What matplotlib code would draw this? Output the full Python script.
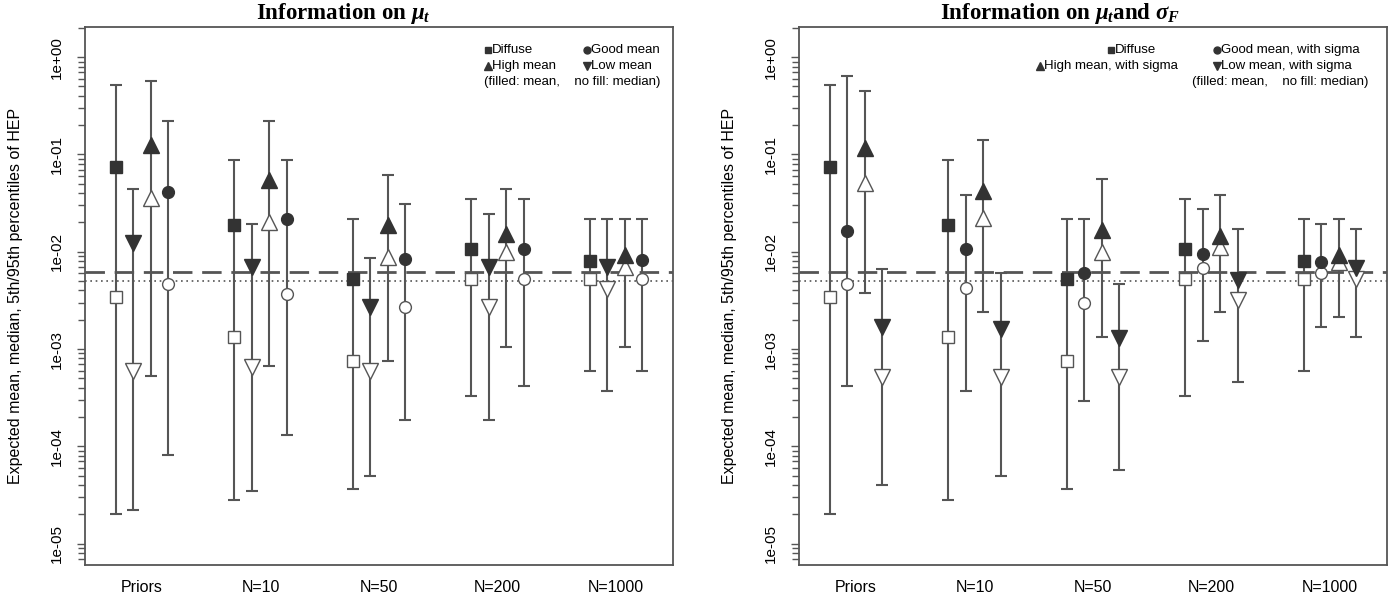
import numpy as np
import matplotlib
matplotlib.use("Agg")
import matplotlib.pyplot as plt
from matplotlib.ticker import LogLocator, NullFormatter, FixedLocator

plt.rcParams['font.family'] = ['Liberation Sans', 'DejaVu Sans']
plt.rcParams['mathtext.fontset'] = 'custom'
plt.rcParams['mathtext.rm'] = 'Liberation Serif:bold'
plt.rcParams['mathtext.it'] = 'Liberation Serif:bold:italic'
plt.rcParams['mathtext.bf'] = 'Liberation Serif:bold'

groups = ["Priors", "N=10", "N=50", "N=200", "N=1000"]

# Left panel: information on mu_t
diffuse_mean = [0.075, 0.019, 0.0052, 0.0106, 0.0081]
diffuse_median = [0.0034, 0.00134, 0.00076, 0.0053, 0.0053]
diffuse_p05 = [2.0e-5, 2.8e-5, 3.6e-5, 3.3e-4, 5.9e-4]
diffuse_p95 = [0.52, 0.088, 0.0216, 0.0345, 0.0216]

low_mean = [0.0124, 0.0069, 0.0027, 0.0070, 0.0070]
low_median = [5.9e-4, 6.5e-4, 5.9e-4, 0.0027, 0.0041]
low_p05 = [2.2e-5, 3.5e-5, 5.0e-5, 1.86e-4, 3.7e-4]
low_p95 = [0.044, 0.0193, 0.0086, 0.0244, 0.0216]

high_mean = [0.125, 0.054, 0.019, 0.0151, 0.0093]
high_median = [0.036, 0.020, 0.0089, 0.0100, 0.0070]
high_p05 = [5.3e-4, 6.7e-4, 7.5e-4, 0.00106, 0.00106]
high_p95 = [0.57, 0.222, 0.062, 0.044, 0.0216]

good_mean = [0.041, 0.0216, 0.0084, 0.0106, 0.0082]
good_median = [0.0047, 0.0037, 0.0027, 0.0053, 0.0053]
good_p05 = [8.1e-5, 1.31e-4, 1.86e-4, 4.2e-4, 5.9e-4]
good_p95 = [0.222, 0.088, 0.0307, 0.0345, 0.0216]

# Right panel: information on mu_t and sigma_F
good_s_mean = [0.0162, 0.0106, 0.0061, 0.0095, 0.0079]
good_s_median = [0.0047, 0.0042, 0.0030, 0.0068, 0.0061]
good_s_p05 = [4.2e-4, 3.7e-4, 2.9e-4, 0.00121, 0.00169]
good_s_p95 = [0.64, 0.0385, 0.0216, 0.0275, 0.0193]

high_s_mean = [0.116, 0.042, 0.0167, 0.0145, 0.0093]
high_s_median = [0.051, 0.022, 0.0100, 0.0111, 0.0079]
high_s_p05 = [0.0038, 0.0024, 0.00134, 0.0024, 0.00215]
high_s_p95 = [0.45, 0.141, 0.056, 0.038, 0.0216]

low_s_mean = [0.0017, 0.0016, 0.0013, 0.0051, 0.0068]
low_s_median = [5.2e-4, 5.2e-4, 5.2e-4, 0.0032, 0.0053]
low_s_p05 = [4.0e-5, 5.0e-5, 5.7e-5, 4.6e-4, 0.00134]
low_s_p95 = [0.0066, 0.0061, 0.0047, 0.0171, 0.0171]

ref_dashed = 0.0062
ref_dotted = 0.005

ytick_vals = [1e-5, 1e-4, 1e-3, 1e-2, 1e-1, 1e0]
ytick_labels = ["1e-05", "1e-04", "1e-03", "1e-02", "1e-01", "1e+00"]

dark = "#333333"
line_col = "#555555"
marker_size = {"s": 8.5, "o": 8.5, "^": 11, "v": 11}


def draw_panel(ax, series):
    x0 = np.arange(1, len(groups) + 1)
    step = 0.148
    for k, (mk, mean, median, lo, hi) in enumerate(series):
        x = x0 + (k - 1.5) * step
        median = np.array(median)
        ax.errorbar(x, median, yerr=[median - np.array(lo), np.array(hi) - median],
                    fmt="none", ecolor=line_col, elinewidth=1.5, capsize=4.5,
                    capthick=1.5, zorder=2)
        ax.plot(x, median, linestyle="none", marker=mk, ms=marker_size[mk],
                mfc="white", mec=line_col, mew=1.0, zorder=4)
        ax.plot(x, mean, linestyle="none", marker=mk, ms=marker_size[mk],
                mfc=dark, mec=dark, mew=1.0, zorder=5)

    ax.axhline(ref_dashed, color=line_col, lw=2.0, dashes=(7, 3.5), zorder=3)
    ax.axhline(ref_dotted, color=line_col, lw=1.2, dashes=(1, 2.2), zorder=3)

    ax.set_yscale("log")
    ax.set_ylim(10 ** -5.22, 10 ** 0.31)
    ax.set_xlim(0.52, 5.48)
    ax.yaxis.set_major_locator(FixedLocator(ytick_vals))
    ax.set_yticklabels(ytick_labels, rotation=90, va="center", fontsize=11)
    ax.yaxis.set_minor_locator(LogLocator(base=10, subs=np.arange(2, 10)))
    ax.yaxis.set_minor_formatter(NullFormatter())
    ax.tick_params(axis="y", which="major", length=6, width=1.0, color=line_col, pad=9)
    ax.tick_params(axis="y", which="minor", length=5, width=1.0, color=line_col)
    ax.set_xticks(x0)
    ax.set_xticklabels(groups, fontsize=11.5)
    ax.tick_params(axis="x", length=0, pad=11)
    for s in ax.spines.values():
        s.set_color(line_col)
        s.set_linewidth(1.3)
    ax.set_ylabel("Expected mean, median, 5th/95th percentiles of HEP", fontsize=11.5)
    ax.yaxis.set_label_coords(-0.105, 0.5)


def legend_item(fig, px, py, mk, label):
    # px, py in figure pixels (top-left origin)
    W, H = 1400, 599
    fx, fy = px / W, 1 - py / H
    fig.lines.append(plt.Line2D([fx], [fy], transform=fig.transFigure, marker=mk,
                                ms=5 if mk in "so" else 6, color=dark, linestyle="none"))
    fig.text(fx + 4 / W, fy, label, fontsize=9.5, va="center", ha="left")


fig = plt.figure(figsize=(14, 5.99), dpi=100)
ax1 = fig.add_axes([85 / 1400, 34 / 599, 588 / 1400, 538 / 599])
ax2 = fig.add_axes([799 / 1400, 34 / 599, 588 / 1400, 538 / 599])

draw_panel(ax1, [
    ("s", diffuse_mean, diffuse_median, diffuse_p05, diffuse_p95),
    ("v", low_mean, low_median, low_p05, low_p95),
    ("^", high_mean, high_median, high_p05, high_p95),
    ("o", good_mean, good_median, good_p05, good_p95),
])
draw_panel(ax2, [
    ("s", diffuse_mean, diffuse_median, diffuse_p05, diffuse_p95),
    ("o", good_s_mean, good_s_median, good_s_p05, good_s_p95),
    ("^", high_s_mean, high_s_median, high_s_p05, high_s_p95),
    ("v", low_s_mean, low_s_median, low_s_p05, low_s_p95),
])

# legends
legend_item(fig, 488, 50, "s", "Diffuse")
legend_item(fig, 587, 50, "o", "Good mean")
legend_item(fig, 488, 66, "^", "High mean")
legend_item(fig, 587, 66, "v", "Low mean")
fig.text(660 / 1400, 1 - 82 / 599, "(filled: mean,    no fill: median)", fontsize=9.5,
         va="center", ha="right")

legend_item(fig, 1111, 50, "s", "Diffuse")
legend_item(fig, 1217, 50, "o", "Good mean, with sigma")
legend_item(fig, 1040, 66, "^", "High mean, with sigma")
legend_item(fig, 1217, 66, "v", "Low mean, with sigma")
fig.text(1368 / 1400, 1 - 82 / 599, "(filled: mean,    no fill: median)", fontsize=9.5,
         va="center", ha="right")

fig.text(0.245, 1 - 14 / 599, r"Information on $\mu_t$", fontsize=16.5,
         family="Liberation Serif", weight="bold", ha="center", va="center")
fig.text(0.757, 1 - 14 / 599, r"Information on $\mu_t$and $\sigma_F$",
         fontsize=16.5, family="Liberation Serif", weight="bold", ha="center", va="center")

fig.savefig("out.png", dpi=100)
